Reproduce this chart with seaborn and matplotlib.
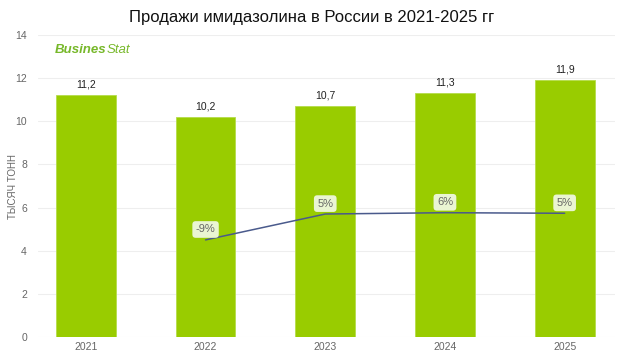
import matplotlib.pyplot as plt
import seaborn as sns

years = ['2021', '2022', '2023', '2024', '2025']
sales = [11.2, 10.2, 10.7, 11.3, 11.9]
growth_years = ['2022', '2023', '2024', '2025']
growth = [-8.9, 4.9, 5.6, 5.3]
growth_labels = ['-9%', '5%', '6%', '5%']

sns.set_style('white')
plt.rcParams['font.family'] = ['Liberation Sans', 'DejaVu Sans']

fig = plt.figure(figsize=(6.23, 3.58), dpi=100)
ax = fig.add_axes([0.061, 0.059, 0.926, 0.843])

sns.barplot(x=years, y=sales, color='#99cc00', width=0.5, saturation=1,
            edgecolor='#b5dc4a', linewidth=0.6, ax=ax, zorder=2)
ax.set_ylim(0, 14)
ax.set_xlim(-0.4, 4.42)
ax.set_yticks(range(0, 15, 2))
ax.grid(axis='y', color='#eeeeee', linewidth=0.8, zorder=0)
ax.set_axisbelow(True)
for s in ax.spines.values():
    s.set_visible(False)
ax.tick_params(axis='both', length=0, labelsize=7.5, colors='#666666')
ax.tick_params(axis='y', pad=8)
ax.tick_params(axis='x', pad=4)
ax.set_ylabel('')
ax.set_xlabel('')
fig.text(0.021, 0.48, 'ТЫСЯЧ ТОНН', rotation=90, fontsize=7,
         color='#666666', ha='center', va='center')

for i, v in enumerate(sales):
    ax.annotate(f'{v:.1f}'.replace('.', ','), (i, v), xytext=(0, 4),
                textcoords='offset points', ha='center', va='bottom',
                fontsize=7.5, color='#222222')

# growth line on a second scale
ax2 = ax.twinx()
gx = [years.index(y) for y in growth_years]
sns.lineplot(x=gx, y=growth, color='#4a5a8c', linewidth=1.1, ax=ax2, zorder=3)
ax2.set_ylim(-60.6, 100.3)
ax2.set_xlim(-0.4, 4.42)
ax2.axis('off')
for x, g, lab in zip(gx, growth, growth_labels):
    ax2.annotate(lab, (x, g), xytext=(0, 7.5), textcoords='offset points',
                 ha='center', va='center', fontsize=8, color='#666666',
                 bbox=dict(boxstyle='round,pad=0.3', fc='#eaf5d2', ec='none'))

fig.text(0.5, 0.95, 'Продажи имидазолина в России в 2021-2025 гг',
         ha='center', va='center', fontsize=12, color='#111111')

# logo
t1 = fig.text(0.088, 0.86, 'Busines', fontsize=9.5, fontweight='bold',
              style='italic', color='#77b82a', ha='left', va='center')
fig.texts.append(plt.Annotation('Stat', xy=(1, 0.5), xycoords=t1,
                                va='center', ha='left', fontsize=9.5,
                                style='italic', color='#77b82a'))
fig.texts[-1].set_figure(fig)

fig.savefig('out.png', dpi=100)
